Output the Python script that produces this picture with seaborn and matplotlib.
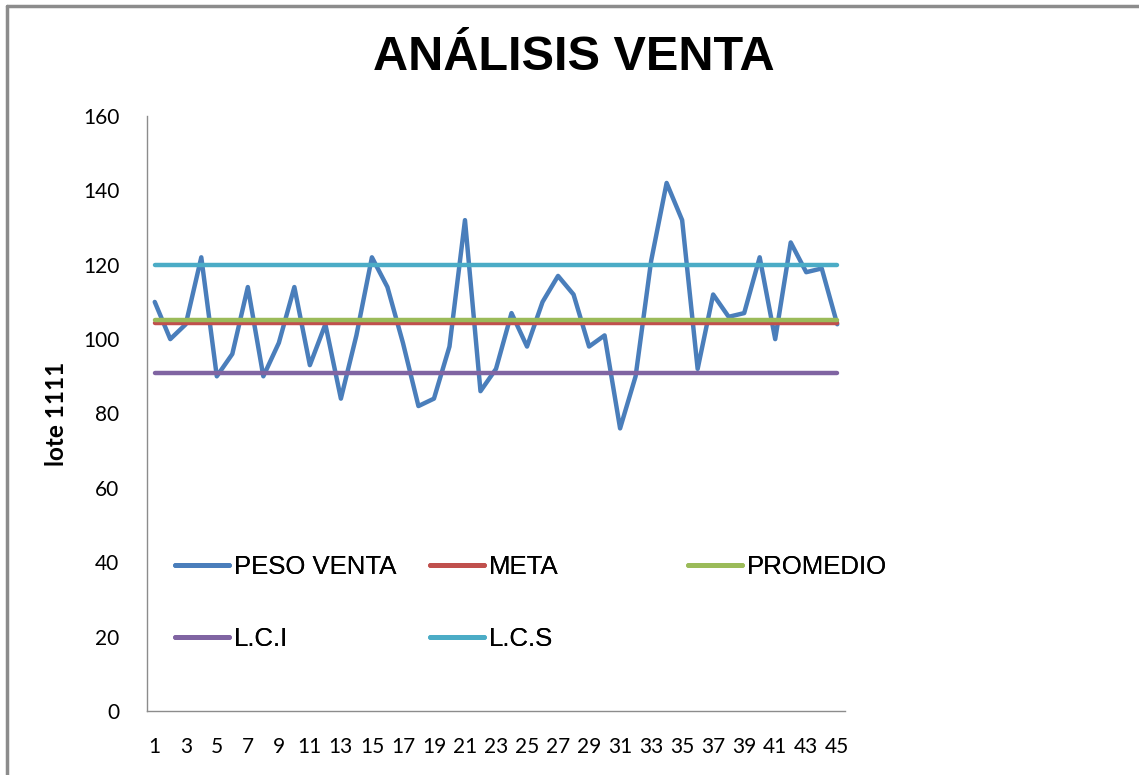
import numpy as np
import pandas as pd
import matplotlib
matplotlib.use("Agg")
import matplotlib.pyplot as plt
import seaborn as sns
from matplotlib.lines import Line2D

# ================= Data =================
lote = list(range(1, 46))
peso_venta = [110, 100, 104, 122, 90, 96, 114, 90, 99, 114,
              93, 104, 84, 101, 122, 114, 99, 82, 84, 98,
              132, 86, 92, 107, 98, 110, 117, 112, 98, 101,
              76, 90, 121, 142, 132, 92, 112, 106, 107, 122,
              100, 126, 118, 119, 104]
meta = 104.3
promedio = 105.2
lci = 90.8
lcs = 120.0

series_names = ["PESO VENTA", "META", "PROMEDIO", "L.C.I", "L.C.S"]
series_colors = ["#4A7EBB", "#C0504D", "#9BBB59", "#8064A2", "#4BACC6"]
y_ticks = [0, 20, 40, 60, 80, 100, 120, 140, 160]
x_labels = list(range(1, 46, 2))

df = pd.concat([
    pd.DataFrame({"lote": lote, "valor": peso_venta, "serie": "PESO VENTA"}),
    pd.DataFrame({"lote": lote, "valor": [meta] * len(lote), "serie": "META"}),
    pd.DataFrame({"lote": lote, "valor": [promedio] * len(lote), "serie": "PROMEDIO"}),
    pd.DataFrame({"lote": lote, "valor": [lci] * len(lote), "serie": "L.C.I"}),
    pd.DataFrame({"lote": lote, "valor": [lcs] * len(lote), "serie": "L.C.S"}),
], ignore_index=True)

palette = dict(zip(series_names, series_colors))

# ================= Plot =================
sns.set_style("white")
plt.rcParams['font.family'] = ['Lato', 'DejaVu Sans']
plt.rcParams['text.color'] = 'black'
plt.rcParams['axes.labelcolor'] = 'black'

fig = plt.figure(figsize=(11.39, 7.75), dpi=100)
ax = fig.add_axes([147 / 1139, 1 - 711 / 775, 698 / 1139, 595 / 775])

sns.lineplot(data=df, x="lote", y="valor", hue="serie", hue_order=series_names,
             palette=palette, linewidth=3.2, ax=ax, legend=False)

ax.set_xlim(0.5, 45.5)
ax.set_ylim(0, 160)
ax.set_yticks(y_ticks)
ax.set_xticks(x_labels)
ax.set_xticklabels([str(v) for v in x_labels])
ax.tick_params(axis='both', length=0, labelsize=15, colors='black')
ax.tick_params(axis='y', pad=20)
ax.tick_params(axis='x', pad=19)
ax.set_xlabel("")
ax.set_ylabel("lote 1111", fontsize=17.5, fontweight='bold', labelpad=11, color='black')

for side in ['top', 'right']:
    ax.spines[side].set_visible(False)
for side in ['left', 'bottom']:
    ax.spines[side].set_color('#8C8C8C')
    ax.spines[side].set_linewidth(1)

fig.suptitle("ANÁLISIS VENTA", x=574 / 1139, y=1 - 57 / 775, va='center', color='black',
             fontsize=35, fontweight='bold', family=['Liberation Sans', 'DejaVu Sans'])

# Legend in three equal columns, like the spreadsheet chart
columns = [["PESO VENTA", "L.C.I"], ["META", "L.C.S"], ["PROMEDIO"]]
col_x = [175, 430, 688]
for names, cx in zip(columns, col_x):
    handles = [Line2D([0], [0], color=palette[n], linewidth=3.5) for n in names]
    leg = fig.legend(handles, names, loc='upper left',
                     bbox_to_anchor=(cx / 1139, 1 - 555 / 775),
                     frameon=False, handlelength=2.1, handletextpad=0.2,
                     borderpad=0, borderaxespad=0, labelspacing=1.85,
                     prop={'family': ['Liberation Sans', 'DejaVu Sans'], 'size': 18.5})
    for t in leg.get_texts():
        t.set_color('black')
    fig.add_artist(leg)

# chart border (left and top)
fig.add_artist(Line2D([7 / 1139, 7 / 1139], [0, 1 - 6 / 775], color='#8C8C8C', linewidth=2.5))
fig.add_artist(Line2D([7 / 1139, 1], [1 - 6 / 775, 1 - 6 / 775], color='#8C8C8C', linewidth=2.5))

fig.savefig("out.png", dpi=100, facecolor='white')
plt.close(fig)
